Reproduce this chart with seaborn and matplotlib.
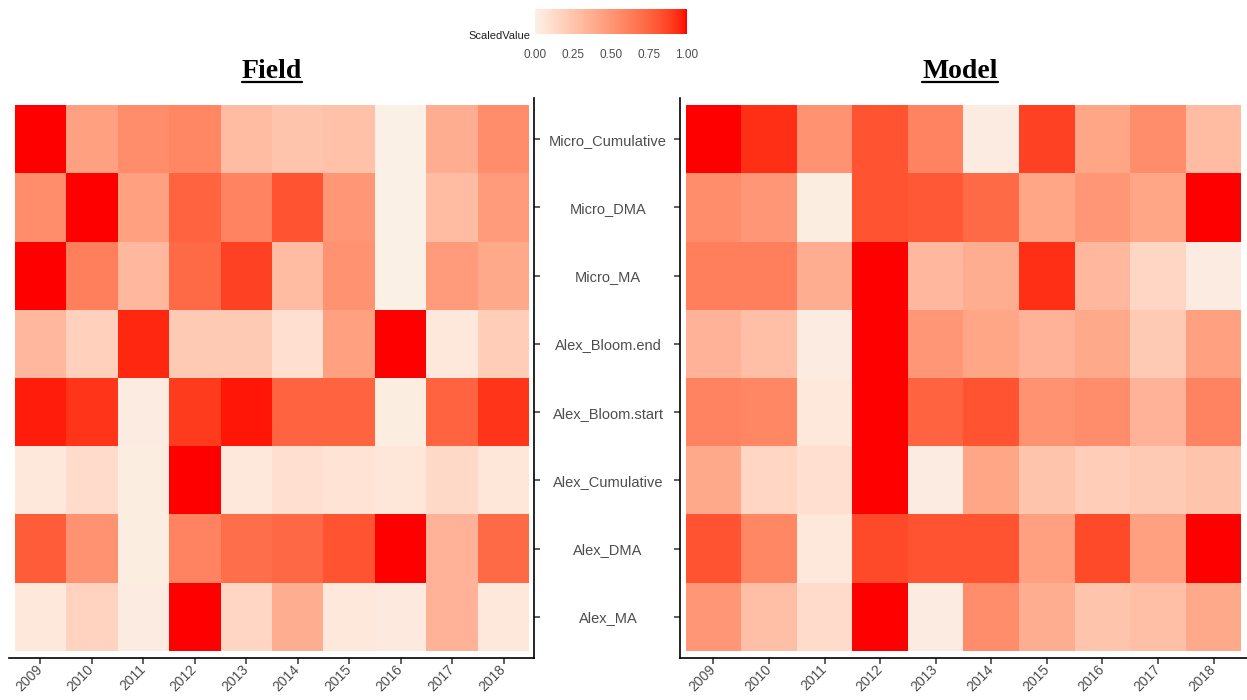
import matplotlib
import numpy as np
import pandas as pd

matplotlib.use("Agg")

import matplotlib.colors as mcolors
import matplotlib.pyplot as plt
import seaborn as sns
from matplotlib.lines import Line2D

YEARS = ["2009", "2010", "2011", "2012", "2013", "2014", "2015", "2016", "2017", "2018"]
METRICS = [
    "Micro_Cumulative",
    "Micro_DMA",
    "Micro_MA",
    "Alex_Bloom.end",
    "Alex_Bloom.start",
    "Alex_Cumulative",
    "Alex_DMA",
    "Alex_MA",
]

# Scaled values, one row per metric (2009..2018).
field_micro_cumulative = [1.00, 0.45, 0.55, 0.58, 0.30, 0.25, 0.27, 0.00, 0.38, 0.55]
field_micro_dma = [0.55, 1.00, 0.45, 0.75, 0.60, 0.82, 0.50, 0.00, 0.30, 0.48]
field_micro_ma = [1.00, 0.62, 0.32, 0.72, 0.88, 0.30, 0.52, 0.00, 0.48, 0.40]
field_bloom_end = [0.32, 0.18, 0.95, 0.22, 0.22, 0.10, 0.45, 1.00, 0.05, 0.20]
field_bloom_start = [0.97, 0.92, 0.03, 0.90, 0.98, 0.75, 0.75, 0.02, 0.75, 0.92]
field_alex_cumulative = [0.05, 0.12, 0.02, 1.00, 0.05, 0.10, 0.07, 0.06, 0.13, 0.06]
field_alex_dma = [0.78, 0.52, 0.02, 0.60, 0.70, 0.73, 0.82, 1.00, 0.35, 0.72]
field_alex_ma = [0.05, 0.17, 0.03, 1.00, 0.15, 0.38, 0.05, 0.04, 0.35, 0.05]

model_micro_cumulative = [1.00, 0.93, 0.52, 0.82, 0.60, 0.03, 0.88, 0.42, 0.55, 0.30]
model_micro_dma = [0.55, 0.50, 0.02, 0.82, 0.80, 0.72, 0.42, 0.50, 0.42, 1.00]
model_micro_ma = [0.62, 0.62, 0.38, 1.00, 0.32, 0.38, 0.93, 0.32, 0.15, 0.03]
model_bloom_end = [0.35, 0.28, 0.03, 1.00, 0.50, 0.42, 0.35, 0.40, 0.22, 0.45]
model_bloom_start = [0.60, 0.58, 0.05, 1.00, 0.75, 0.82, 0.52, 0.55, 0.35, 0.60]
model_alex_cumulative = [0.40, 0.15, 0.10, 1.00, 0.03, 0.42, 0.25, 0.20, 0.22, 0.25]
model_alex_dma = [0.82, 0.58, 0.05, 0.85, 0.82, 0.82, 0.45, 0.85, 0.45, 1.00]
model_alex_ma = [0.50, 0.28, 0.12, 1.00, 0.03, 0.55, 0.38, 0.25, 0.28, 0.40]

TEXT_GREY = "#4D4D4D"


def to_lab(hexc):
    rgb = np.array(mcolors.to_rgb(hexc))
    lin = np.where(rgb <= 0.04045, rgb / 12.92, ((rgb + 0.055) / 1.055) ** 2.4)
    m = np.array([[0.4124, 0.3576, 0.1805], [0.2126, 0.7152, 0.0722], [0.0193, 0.1192, 0.9505]])
    xyz = m @ lin / np.array([0.95047, 1.0, 1.08883])
    f = np.where(xyz > 0.008856, np.cbrt(xyz), 7.787 * xyz + 16 / 116)
    return np.array([116 * f[1] - 16, 500 * (f[0] - f[1]), 200 * (f[1] - f[2])])


def from_lab(lab):
    fy = (lab[0] + 16) / 116
    f = np.array([fy + lab[1] / 500, fy, fy - lab[2] / 200])
    t = np.where(f ** 3 > 0.008856, f ** 3, (f - 16 / 116) / 7.787)
    xyz = t * np.array([0.95047, 1.0, 1.08883])
    m = np.array([[0.4124, 0.3576, 0.1805], [0.2126, 0.7152, 0.0722], [0.0193, 0.1192, 0.9505]])
    lin = np.linalg.solve(m, xyz)
    rgb = np.where(lin <= 0.0031308, 12.92 * lin, 1.055 * np.abs(lin) ** (1 / 2.4) - 0.055)
    return np.clip(rgb, 0, 1)


def gradient_cmap(low, high, n=256):
    # ggplot style gradient: interpolate in Lab space rather than RGB.
    a, b = to_lab(low), to_lab(high)
    cols = [from_lab(a + (b - a) * t) for t in np.linspace(0, 1, n)]
    return mcolors.ListedColormap(cols)


def style_axis(ax, side):
    ax.set_xlim(-0.1, len(YEARS) + 0.1)
    ax.set_ylim(len(METRICS) + 0.1, -0.1)
    ax.set_xlabel("")
    ax.set_ylabel("")
    for s in ["top", "left", "right", "bottom"]:
        ax.spines[s].set_visible(False)
    for s in ["bottom", side]:
        ax.spines[s].set_visible(True)
        ax.spines[s].set_color("black")
        ax.spines[s].set_linewidth(1.2)
    ax.tick_params(axis="x", bottom=True, length=4, width=1.1, color="#333333",
                   labelsize=10, labelcolor=TEXT_GREY, pad=3)
    for lab in ax.get_xticklabels():
        lab.set_rotation(45)
        lab.set_ha("right")
        lab.set_va("center")
        lab.set_rotation_mode("anchor")


def main() -> None:
    sns.set_theme(style="white")
    plt.rcParams["font.family"] = ["Liberation Sans", "DejaVu Sans"]

    field = pd.DataFrame(
        [field_micro_cumulative, field_micro_dma, field_micro_ma, field_bloom_end,
         field_bloom_start, field_alex_cumulative, field_alex_dma, field_alex_ma],
        index=METRICS, columns=YEARS,
    )
    model = pd.DataFrame(
        [model_micro_cumulative, model_micro_dma, model_micro_ma, model_bloom_end,
         model_bloom_start, model_alex_cumulative, model_alex_dma, model_alex_ma],
        index=METRICS, columns=YEARS,
    )

    cmap = gradient_cmap("#FAF0E6", "#FF0000")

    fig = plt.figure(figsize=(12.47, 7.0), dpi=100)
    ax_l = fig.add_axes([0.0076, 0.0603, 0.4210, 0.7994])
    ax_r = fig.add_axes([0.5453, 0.0603, 0.4547, 0.7994])
    cax = fig.add_axes([535 / 1247, 1 - 34 / 700, 152 / 1247, 25 / 700])

    sns.heatmap(field, ax=ax_l, cmap=cmap, vmin=0, vmax=1, cbar=True, cbar_ax=cax,
                cbar_kws={"orientation": "horizontal", "ticks": [0, 0.25, 0.5, 0.75, 1.0]})
    sns.heatmap(model, ax=ax_r, cmap=cmap, vmin=0, vmax=1, cbar=False)

    # Left panel: axis line on the right, metric names centred between the panels.
    style_axis(ax_l, "right")
    ax_l.yaxis.tick_right()
    ax_l.tick_params(axis="y", left=False, right=True, labelleft=False, labelright=True,
                     length=4, width=1.1, color="#333333", labelsize=10.5,
                     labelcolor=TEXT_GREY, pad=49)
    for lab in ax_l.get_yticklabels():
        lab.set_rotation(0)
        lab.set_ha("center")

    style_axis(ax_r, "left")
    ax_r.tick_params(axis="y", left=True, right=False, labelleft=False, labelright=False,
                     length=4, width=1.1, color="#333333")

    # Colour bar styled like a ggplot legend.
    cbar = ax_l.collections[0].colorbar
    cbar.outline.set_visible(False)
    cax.set_xticklabels(["0.00", "0.25", "0.50", "0.75", "1.00"])
    cax.tick_params(axis="x", bottom=True, direction="in", length=5, color="white",
                    width=0.8, labelsize=8.5, labelcolor=TEXT_GREY, pad=11)
    fig.text(530 / 1247, 1 - 36 / 700, "ScaledValue", ha="right", va="center",
             fontsize=8, color="#222222")

    # Panel titles, bold serif with an underline.
    titles = []
    for x, txt in [(272 / 1247, "Field"), (960 / 1247, "Model")]:
        t = fig.text(x, 1 - 78 / 700, txt, ha="center", va="baseline",
                     fontsize=20, fontweight="bold", family="Liberation Serif", color="black")
        titles.append(t)

    fig.canvas.draw()
    renderer = fig.canvas.get_renderer()
    for t in titles:
        bb = t.get_window_extent(renderer).transformed(fig.transFigure.inverted())
        y = 1 - 82 / 700
        fig.add_artist(Line2D([bb.x0, bb.x1], [y, y], transform=fig.transFigure,
                              color="black", linewidth=1.6))

    fig.savefig("out.png", dpi=100)
    plt.close(fig)


if __name__ == "__main__":
    main()
